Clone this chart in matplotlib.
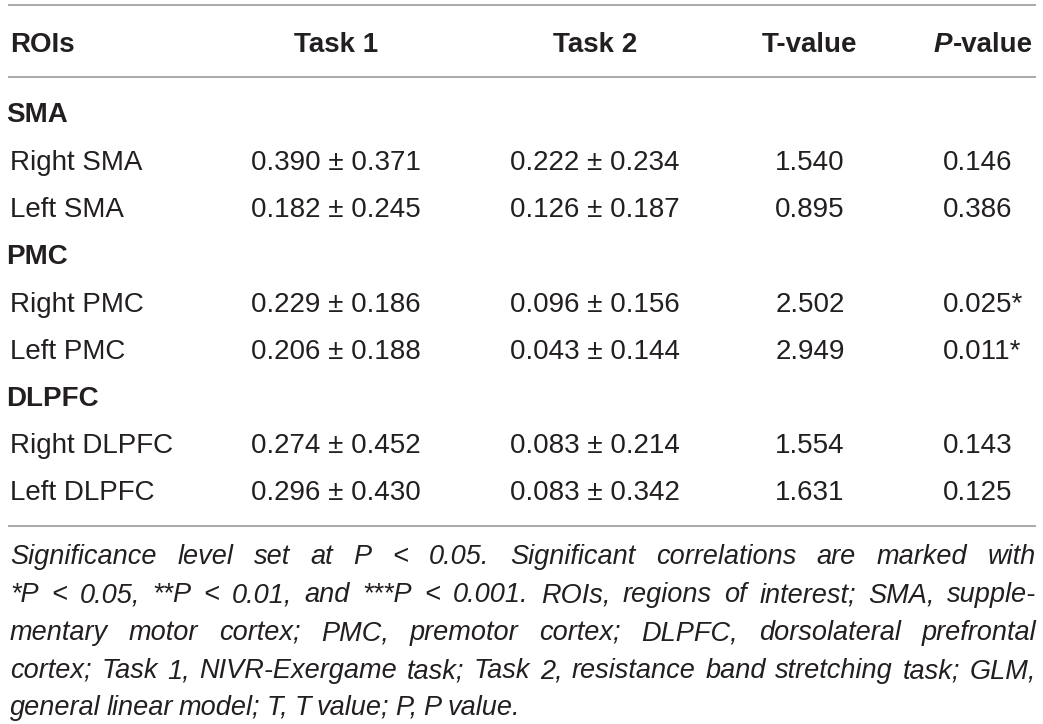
import matplotlib
matplotlib.use("Agg")
import matplotlib.pyplot as plt
from matplotlib import font_manager

# table content
columns = ["ROIs", "Task 1", "Task 2", "T-value", "P-value"]
groups = ["SMA", "PMC", "DLPFC"]
regions = ["Right SMA", "Left SMA", "Right PMC", "Left PMC", "Right DLPFC", "Left DLPFC"]
task1 = ["0.390 ± 0.371", "0.182 ± 0.245", "0.229 ± 0.186",
         "0.206 ± 0.188", "0.274 ± 0.452", "0.296 ± 0.430"]
task2 = ["0.222 ± 0.234", "0.126 ± 0.187", "0.096 ± 0.156",
         "0.043 ± 0.144", "0.083 ± 0.214", "0.083 ± 0.342"]
t_values = ["1.540", "0.895", "2.502", "2.949", "1.554", "1.631"]
p_values = ["0.146", "0.386", "0.025*", "0.011*", "0.143", "0.125"]
footnote = [
    "Significance level set at P < 0.05. Significant correlations are marked with",
    "*P < 0.05, **P < 0.01, and ***P < 0.001. ROIs, regions of interest; SMA, supple-",
    "mentary motor cortex; PMC, premotor cortex; DLPFC, dorsolateral prefrontal",
    "cortex; Task 1, NIVR-Exergame task; Task 2, resistance band stretching task; GLM,",
    "general linear model; T, T value; P, P value.",
]

TXT = "#231f20"
RULE = "#a3a3a3"
FS = 20
available = {f.name for f in font_manager.fontManager.ttflist}
MAIN = "Liberation Sans"
NOTE = "Liberation Sans Narrow" if "Liberation Sans Narrow" in available else "Liberation Sans"

fig = plt.figure(figsize=(10.43, 7.24), dpi=100)
ax = fig.add_axes([0, 0, 1, 1])
ax.set_xlim(0, 1043)
ax.set_ylim(724, 0)
ax.axis("off")
renderer = fig.canvas.get_renderer()


def width(s, size, **kw):
    t = ax.text(0, 0, s, fontsize=size, family=NOTE, style="italic", **kw)
    w = t.get_window_extent(renderer).width
    t.remove()
    return w


# horizontal rules
for y in [5, 77, 526]:
    ax.plot([8, 1036], [y, y], color=RULE, lw=1.3, solid_capstyle="butt")

# header
hdr_y = 52
ax.text(10, hdr_y, columns[0], fontsize=FS, fontweight="bold", family=MAIN, color=TXT, va="baseline")
for label, cx in zip(columns[1:4], [336, 595, 810]):
    ax.text(cx, hdr_y, label, fontsize=FS, fontweight="bold", family=MAIN, color=TXT,
            va="baseline", ha="center")

# P-value header: italic bold P + bold "-value"
p1 = ax.text(0, hdr_y, "P", fontsize=FS, fontweight="bold", style="italic", family=MAIN,
             color=TXT, va="baseline")
p2 = ax.text(0, hdr_y, columns[4][1:], fontsize=FS, fontweight="bold", family=MAIN,
             color=TXT, va="baseline")
w1 = p1.get_window_extent(renderer).width
w2 = p2.get_window_extent(renderer).width
x0 = 983 - (w1 + w2) / 2
p1.set_x(x0)
p2.set_x(x0 + w1 + 1)

# body
group_y = [122, 264, 406]
row_y = [170, 217, 312, 359, 453, 500]
for g, y in zip(groups, group_y):
    ax.text(6, y, g, fontsize=FS, fontweight="bold", family=MAIN, color=TXT, va="baseline")
for i, y in enumerate(row_y):
    ax.text(10, y, regions[i], fontsize=FS, family=MAIN, color=TXT, va="baseline")
    ax.text(336, y, task1[i], fontsize=FS, family=MAIN, color=TXT, va="baseline", ha="center")
    ax.text(595, y, task2[i], fontsize=FS, family=MAIN, color=TXT, va="baseline", ha="center")
    ax.text(810, y, t_values[i], fontsize=FS, family=MAIN, color=TXT, va="baseline", ha="center")
    ax.text(943, y, p_values[i], fontsize=FS, family=MAIN, color=TXT, va="baseline")

# footnote, justified between x=10 and x=1036
left, right = 10, 1036
note_y = [564, 602, 640, 678, 715]
# biggest size at which every justified line still fits with tight spacing
base = 10
fits = []
for line in footnote[:-1]:
    words = line.split(" ")
    nat = sum(width(w, base) for w in words) + 0.75 * (len(words) - 1) * (
        width("a a", base) - width("aa", base))
    fits.append(base * (right - left) / nat)
NOTE_FS = min(min(fits), 19.5)

sp_gap = width("a a", NOTE_FS) - width("aa", NOTE_FS)
for k, (line, y) in enumerate(zip(footnote, note_y)):
    words = line.split(" ")
    objs = [ax.text(0, y, w, fontsize=NOTE_FS, family=NOTE, style="italic", color=TXT,
                    va="baseline") for w in words]
    widths = [o.get_window_extent(renderer).width for o in objs]
    if k == len(footnote) - 1:
        gap = sp_gap * 0.8
    else:
        gap = (right - left - sum(widths)) / (len(words) - 1)
    x = left
    for o, w in zip(objs, widths):
        o.set_x(x)
        x += w + gap

fig.savefig("out.png", dpi=100)
